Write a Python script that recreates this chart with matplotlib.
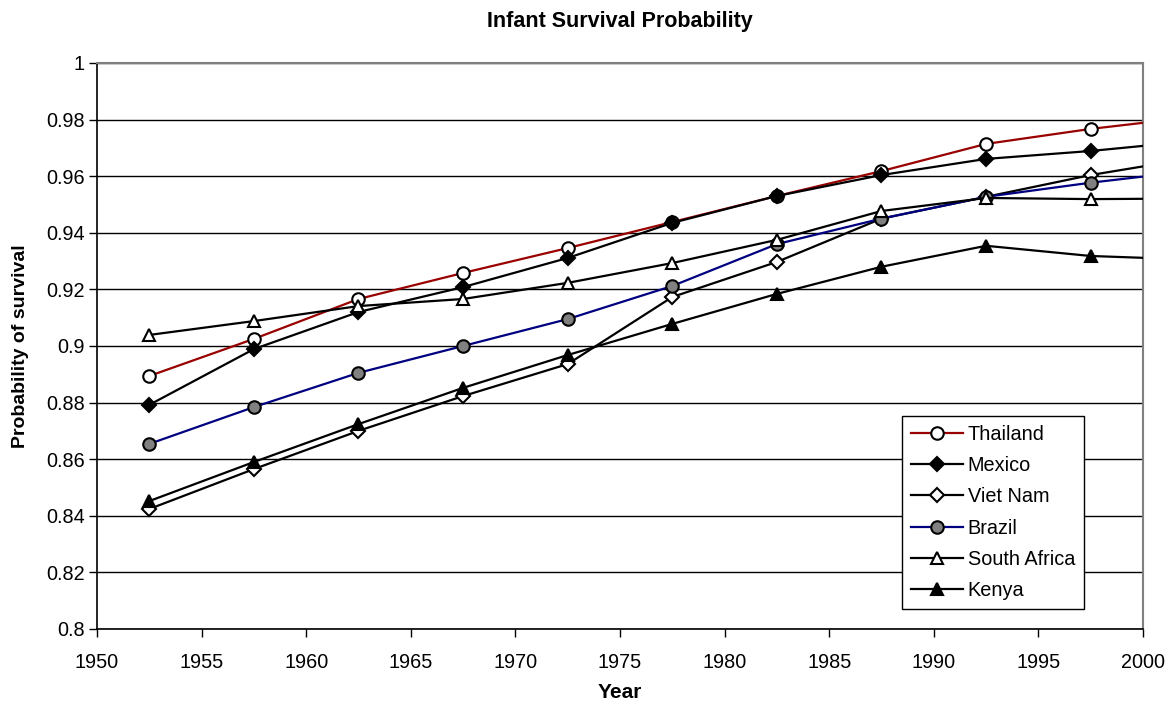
import matplotlib
matplotlib.use("Agg")
import matplotlib.pyplot as plt

plt.rcParams['font.family'] = ['Liberation Sans', 'DejaVu Sans']

years = [1952.5, 1957.5, 1962.5, 1967.5, 1972.5, 1977.5, 1982.5, 1987.5, 1992.5, 1997.5, 2002.5]
thailand = [0.8894, 0.9025, 0.9166, 0.9258, 0.9346, 0.9438, 0.9530, 0.9618, 0.9714, 0.9767, 0.9810]
mexico = [0.8792, 0.8989, 0.9120, 0.9208, 0.9311, 0.9435, 0.9530, 0.9604, 0.9661, 0.9689, 0.9725]
vietnam = [0.8424, 0.8565, 0.8700, 0.8823, 0.8936, 0.9173, 0.9297, 0.9450, 0.9527, 0.9604, 0.9665]
brazil = [0.8654, 0.8784, 0.8905, 0.9000, 0.9095, 0.9212, 0.9360, 0.9450, 0.9527, 0.9577, 0.9620]
south_africa = [0.9039, 0.9088, 0.9141, 0.9166, 0.9223, 0.9293, 0.9375, 0.9477, 0.9523, 0.9519, 0.9521]
kenya = [0.8452, 0.8590, 0.8724, 0.8852, 0.8968, 0.9078, 0.9184, 0.9280, 0.9354, 0.9318, 0.9305]

x_ticks = list(range(1950, 2001, 5))
y_ticks = [0.8, 0.82, 0.84, 0.86, 0.88, 0.9, 0.92, 0.94, 0.96, 0.98, 1.0]
y_labels = ['0.8', '0.82', '0.84', '0.86', '0.88', '0.9', '0.92', '0.94', '0.96', '0.98', '1']

fig = plt.figure(figsize=(11.73, 7.06), dpi=100)
ax = fig.add_axes([0.0827, 0.1091, 0.8917, 0.8017])

ms = 9
mew = 1.5
lw = 1.6
series = [
    ('Thailand', thailand, '#990000', 'o', 'white'),
    ('Mexico', mexico, 'black', 'D', 'black'),
    ('Viet Nam', vietnam, 'black', 'D', 'white'),
    ('Brazil', brazil, '#000080', 'o', '#808080'),
    ('South Africa', south_africa, 'black', '^', 'white'),
    ('Kenya', kenya, 'black', '^', 'black'),
]
for name, vals, col, mk, fc in series:
    size = ms * 0.8 if mk == 'D' else ms
    ax.plot(years, vals, color=col, lw=lw, marker=mk, markersize=size,
            markerfacecolor=fc, markeredgecolor='black', markeredgewidth=mew,
            label=name, clip_on=True, zorder=3)

ax.set_xlim(1950, 2000)
ax.set_ylim(0.8, 1.0)
ax.set_xticks(x_ticks)
ax.set_yticks(y_ticks)
ax.set_yticklabels(y_labels)
ax.tick_params(axis='both', labelsize=14.3, direction='out', length=6, width=1, colors='black')
ax.tick_params(axis='x', pad=11)
ax.tick_params(axis='y', pad=3)
ax.yaxis.grid(True, color='black', lw=1)
ax.set_axisbelow(True)
for s in ['left', 'bottom']:
    ax.spines[s].set_color('black')
    ax.spines[s].set_linewidth(1.2)
for s in ['top', 'right']:
    ax.spines[s].set_color('#808080')
    ax.spines[s].set_linewidth(1.5)

ax.set_title('Infant Survival Probability', fontsize=15.5, fontweight='bold', pad=26)
ax.set_xlabel('Year', fontsize=15, fontweight='bold', labelpad=8)
ax.set_ylabel('Probability of survival', fontsize=14, fontweight='bold', labelpad=12)

leg = ax.legend(loc='lower left', bbox_to_anchor=(0.7696, 0.035), fontsize=14.3,
                frameon=True, fancybox=False, edgecolor='black', framealpha=1,
                handlelength=2.6, labelspacing=0.62, borderpad=0.45, handletextpad=0.25,
                borderaxespad=0)
leg.get_frame().set_linewidth(1)

fig.savefig('out.png', dpi=100)
